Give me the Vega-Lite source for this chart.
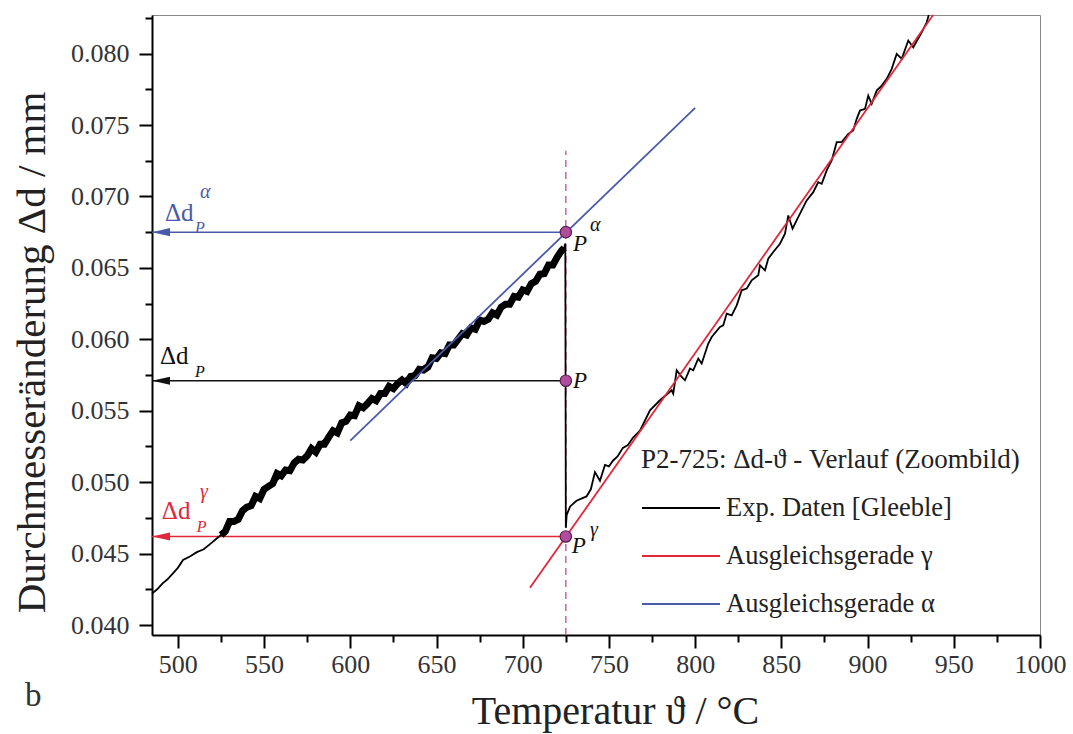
{
  "$schema": "https://vega.github.io/schema/vega-lite/v6.json",
  "width": 888,
  "height": 620,
  "autosize": "none",
  "padding": {"left": 152, "top": 15, "right": 33, "bottom": 99},
  "background": "white",
  "title": {"text": "b", "orient": "bottom", "anchor": "start", "frame": "group", "font": "Liberation Serif", "fontSize": 33, "fontWeight": "normal", "color": "#333", "dx": -127, "dy": -55},
  "config": {
    "view": {"stroke": "#888", "strokeWidth": 1},
    "axis": {"domainColor": "black", "domainWidth": 2, "tickColor": "black", "tickWidth": 2, "grid": false, "labelFont": "Liberation Serif", "labelFontSize": 26, "labelColor": "#333", "titleFont": "Liberation Serif", "titleFontWeight": "normal", "titleColor": "#222", "labelOverlap": false, "labelFlush": false},
    "legend": {"titleFont": "Liberation Serif", "titleFontSize": 27, "titleFontWeight": "normal", "titleColor": "#222", "labelFont": "Liberation Serif", "labelFontSize": 26.5, "labelColor": "#222", "labelLimit": 400, "titleLimit": 500}
  },
  "datasets": {
    "hlines": [
      {"x": 485, "x2": 725, "y": 0.0675, "c": "#4a5aaa"},
      {"x": 485, "x2": 725, "y": 0.0571, "c": "#111111"},
      {"x": 485, "x2": 725, "y": 0.0462, "c": "#e0283a"}
    ],
    "arrows": [
      {"x": 485, "y": 0.0675, "c": "#4a5aaa"},
      {"x": 485, "y": 0.0571, "c": "#111111"},
      {"x": 485, "y": 0.0462, "c": "#e0283a"}
    ],
    "vline": [{"x": 725, "y": 0.0393, "y2": 0.0732}],
    "pts": [
      {"x": 725, "y": 0.0675},
      {"x": 725, "y": 0.0571},
      {"x": 725, "y": 0.0462}
    ],
    "band": [
      {"x": 525, "y": 0.0463}, {"x": 527.5, "y": 0.04655}, {"x": 530, "y": 0.04725}, {"x": 532.5, "y": 0.04725},
      {"x": 535, "y": 0.0474}, {"x": 537.5, "y": 0.048}, {"x": 540, "y": 0.04825}, {"x": 542.5, "y": 0.04835},
      {"x": 545, "y": 0.049}, {"x": 547.5, "y": 0.04885}, {"x": 550, "y": 0.0495}, {"x": 552.5, "y": 0.0497},
      {"x": 555, "y": 0.0499}, {"x": 557.5, "y": 0.0506}, {"x": 560, "y": 0.05045}, {"x": 562.5, "y": 0.05085},
      {"x": 565, "y": 0.0508}, {"x": 567.5, "y": 0.05135}, {"x": 570, "y": 0.0516}, {"x": 572.5, "y": 0.05155},
      {"x": 575, "y": 0.05185}, {"x": 577.5, "y": 0.05235}, {"x": 580, "y": 0.0521}, {"x": 582.5, "y": 0.05265},
      {"x": 585, "y": 0.05265}, {"x": 587.5, "y": 0.05315}, {"x": 590, "y": 0.0536}, {"x": 592.5, "y": 0.05345},
      {"x": 595, "y": 0.05415}, {"x": 597.5, "y": 0.05425}, {"x": 600, "y": 0.0547}, {"x": 602.5, "y": 0.05465},
      {"x": 605, "y": 0.05535}, {"x": 607.5, "y": 0.0552}, {"x": 610, "y": 0.0555}, {"x": 612.5, "y": 0.05585},
      {"x": 615, "y": 0.0557}, {"x": 617.5, "y": 0.0562}, {"x": 620, "y": 0.0562}, {"x": 622.5, "y": 0.0567},
      {"x": 625, "y": 0.05655}, {"x": 627.5, "y": 0.0569}, {"x": 630, "y": 0.05715}, {"x": 632.5, "y": 0.0569},
      {"x": 635, "y": 0.0574}, {"x": 637.5, "y": 0.05745}, {"x": 640, "y": 0.0579}, {"x": 642.5, "y": 0.05785},
      {"x": 645, "y": 0.05805}, {"x": 647.5, "y": 0.0587}, {"x": 650, "y": 0.05865}, {"x": 652.5, "y": 0.05905},
      {"x": 655, "y": 0.059}, {"x": 657.5, "y": 0.0596}, {"x": 660, "y": 0.0596}, {"x": 662.5, "y": 0.06},
      {"x": 665, "y": 0.0604}, {"x": 667.5, "y": 0.0603}, {"x": 670, "y": 0.0608}, {"x": 672.5, "y": 0.0607},
      {"x": 675, "y": 0.06135}, {"x": 677.5, "y": 0.06125}, {"x": 680, "y": 0.0614}, {"x": 682.5, "y": 0.06185},
      {"x": 685, "y": 0.0617}, {"x": 687.5, "y": 0.06225}, {"x": 690, "y": 0.06245}, {"x": 692.5, "y": 0.06245},
      {"x": 695, "y": 0.063}, {"x": 697.5, "y": 0.06295}, {"x": 700, "y": 0.06345}, {"x": 702.5, "y": 0.06335},
      {"x": 705, "y": 0.0639}, {"x": 707.5, "y": 0.06405}, {"x": 710, "y": 0.06455}, {"x": 712.5, "y": 0.0646},
      {"x": 715, "y": 0.0652}, {"x": 717.5, "y": 0.0652}, {"x": 720, "y": 0.06575}, {"x": 722.5, "y": 0.0662},
      {"x": 724, "y": 0.0664}
    ],
    "lines": [
      {"s": "Exp. Daten [Gleeble]", "x": 485, "y": 0.0422},
      {"s": "Exp. Daten [Gleeble]", "x": 488, "y": 0.0425},
      {"s": "Exp. Daten [Gleeble]", "x": 491, "y": 0.0429},
      {"s": "Exp. Daten [Gleeble]", "x": 494, "y": 0.0432},
      {"s": "Exp. Daten [Gleeble]", "x": 497, "y": 0.0436},
      {"s": "Exp. Daten [Gleeble]", "x": 500, "y": 0.044},
      {"s": "Exp. Daten [Gleeble]", "x": 503, "y": 0.04455},
      {"s": "Exp. Daten [Gleeble]", "x": 507, "y": 0.0448},
      {"s": "Exp. Daten [Gleeble]", "x": 511, "y": 0.0451},
      {"s": "Exp. Daten [Gleeble]", "x": 515, "y": 0.0453},
      {"s": "Exp. Daten [Gleeble]", "x": 519, "y": 0.0457},
      {"s": "Exp. Daten [Gleeble]", "x": 522, "y": 0.046},
      {"s": "Exp. Daten [Gleeble]", "x": 525, "y": 0.0463},
      {"s": "Exp. Daten [Gleeble]", "x": 550, "y": 0.0494},
      {"s": "Exp. Daten [Gleeble]", "x": 575, "y": 0.0519},
      {"s": "Exp. Daten [Gleeble]", "x": 600, "y": 0.0546},
      {"s": "Exp. Daten [Gleeble]", "x": 625, "y": 0.0567},
      {"s": "Exp. Daten [Gleeble]", "x": 650, "y": 0.0587},
      {"s": "Exp. Daten [Gleeble]", "x": 675, "y": 0.0611},
      {"s": "Exp. Daten [Gleeble]", "x": 700, "y": 0.0633},
      {"s": "Exp. Daten [Gleeble]", "x": 715, "y": 0.065},
      {"s": "Exp. Daten [Gleeble]", "x": 724, "y": 0.0664},
      {"s": "Exp. Daten [Gleeble]", "x": 724.7, "y": 0.0667},
      {"s": "Exp. Daten [Gleeble]", "x": 725, "y": 0.0468},
      {"s": "Exp. Daten [Gleeble]", "x": 725.5, "y": 0.0477},
      {"s": "Exp. Daten [Gleeble]", "x": 727.5, "y": 0.0483},
      {"s": "Exp. Daten [Gleeble]", "x": 731.2, "y": 0.0487},
      {"s": "Exp. Daten [Gleeble]", "x": 737, "y": 0.049},
      {"s": "Exp. Daten [Gleeble]", "x": 739.5, "y": 0.0495},
      {"s": "Exp. Daten [Gleeble]", "x": 741.9, "y": 0.0507},
      {"s": "Exp. Daten [Gleeble]", "x": 744.8, "y": 0.0501},
      {"s": "Exp. Daten [Gleeble]", "x": 747.7, "y": 0.0512},
      {"s": "Exp. Daten [Gleeble]", "x": 750, "y": 0.0511},
      {"s": "Exp. Daten [Gleeble]", "x": 752.3, "y": 0.0515},
      {"s": "Exp. Daten [Gleeble]", "x": 755, "y": 0.0518},
      {"s": "Exp. Daten [Gleeble]", "x": 758.1, "y": 0.0524},
      {"s": "Exp. Daten [Gleeble]", "x": 761, "y": 0.0526},
      {"s": "Exp. Daten [Gleeble]", "x": 763.9, "y": 0.0531},
      {"s": "Exp. Daten [Gleeble]", "x": 768, "y": 0.0536},
      {"s": "Exp. Daten [Gleeble]", "x": 773.8, "y": 0.05503},
      {"s": "Exp. Daten [Gleeble]", "x": 779.6, "y": 0.05573},
      {"s": "Exp. Daten [Gleeble]", "x": 786.4, "y": 0.05643},
      {"s": "Exp. Daten [Gleeble]", "x": 787.3, "y": 0.0562},
      {"s": "Exp. Daten [Gleeble]", "x": 789.3, "y": 0.05783},
      {"s": "Exp. Daten [Gleeble]", "x": 792.2, "y": 0.05736},
      {"s": "Exp. Daten [Gleeble]", "x": 794.1, "y": 0.05713},
      {"s": "Exp. Daten [Gleeble]", "x": 797.0, "y": 0.05795},
      {"s": "Exp. Daten [Gleeble]", "x": 798.9, "y": 0.05783},
      {"s": "Exp. Daten [Gleeble]", "x": 801.8, "y": 0.05865},
      {"s": "Exp. Daten [Gleeble]", "x": 803.8, "y": 0.0583},
      {"s": "Exp. Daten [Gleeble]", "x": 807.6, "y": 0.0597},
      {"s": "Exp. Daten [Gleeble]", "x": 809.6, "y": 0.06016},
      {"s": "Exp. Daten [Gleeble]", "x": 814.4, "y": 0.06086},
      {"s": "Exp. Daten [Gleeble]", "x": 816.3, "y": 0.06098},
      {"s": "Exp. Daten [Gleeble]", "x": 818.3, "y": 0.0618},
      {"s": "Exp. Daten [Gleeble]", "x": 821.2, "y": 0.06168},
      {"s": "Exp. Daten [Gleeble]", "x": 824.1, "y": 0.06238},
      {"s": "Exp. Daten [Gleeble]", "x": 827.0, "y": 0.06343},
      {"s": "Exp. Daten [Gleeble]", "x": 829.9, "y": 0.06355},
      {"s": "Exp. Daten [Gleeble]", "x": 832.8, "y": 0.06413},
      {"s": "Exp. Daten [Gleeble]", "x": 836.6, "y": 0.06448},
      {"s": "Exp. Daten [Gleeble]", "x": 837.6, "y": 0.06517},
      {"s": "Exp. Daten [Gleeble]", "x": 840.5, "y": 0.06483},
      {"s": "Exp. Daten [Gleeble]", "x": 842.4, "y": 0.06564},
      {"s": "Exp. Daten [Gleeble]", "x": 845.3, "y": 0.06611},
      {"s": "Exp. Daten [Gleeble]", "x": 849.2, "y": 0.06669},
      {"s": "Exp. Daten [Gleeble]", "x": 852.1, "y": 0.06739},
      {"s": "Exp. Daten [Gleeble]", "x": 854.0, "y": 0.06867},
      {"s": "Exp. Daten [Gleeble]", "x": 856.5, "y": 0.06774},
      {"s": "Exp. Daten [Gleeble]", "x": 859.8, "y": 0.06855},
      {"s": "Exp. Daten [Gleeble]", "x": 864.7, "y": 0.06972},
      {"s": "Exp. Daten [Gleeble]", "x": 868.5, "y": 0.0703},
      {"s": "Exp. Daten [Gleeble]", "x": 871.4, "y": 0.071},
      {"s": "Exp. Daten [Gleeble]", "x": 873.4, "y": 0.07089},
      {"s": "Exp. Daten [Gleeble]", "x": 876.3, "y": 0.07182},
      {"s": "Exp. Daten [Gleeble]", "x": 879.2, "y": 0.07252},
      {"s": "Exp. Daten [Gleeble]", "x": 882.1, "y": 0.0738},
      {"s": "Exp. Daten [Gleeble]", "x": 885.0, "y": 0.0738},
      {"s": "Exp. Daten [Gleeble]", "x": 888.8, "y": 0.07438},
      {"s": "Exp. Daten [Gleeble]", "x": 891.7, "y": 0.07462},
      {"s": "Exp. Daten [Gleeble]", "x": 893.7, "y": 0.07543},
      {"s": "Exp. Daten [Gleeble]", "x": 895.6, "y": 0.07601},
      {"s": "Exp. Daten [Gleeble]", "x": 898.5, "y": 0.07613},
      {"s": "Exp. Daten [Gleeble]", "x": 900.4, "y": 0.07706},
      {"s": "Exp. Daten [Gleeble]", "x": 902.4, "y": 0.07648},
      {"s": "Exp. Daten [Gleeble]", "x": 905.3, "y": 0.07741},
      {"s": "Exp. Daten [Gleeble]", "x": 908.2, "y": 0.07776},
      {"s": "Exp. Daten [Gleeble]", "x": 911.1, "y": 0.07823},
      {"s": "Exp. Daten [Gleeble]", "x": 914.0, "y": 0.07893},
      {"s": "Exp. Daten [Gleeble]", "x": 916.9, "y": 0.07998},
      {"s": "Exp. Daten [Gleeble]", "x": 919.8, "y": 0.07963},
      {"s": "Exp. Daten [Gleeble]", "x": 923.6, "y": 0.08091},
      {"s": "Exp. Daten [Gleeble]", "x": 926.5, "y": 0.08044},
      {"s": "Exp. Daten [Gleeble]", "x": 931.4, "y": 0.08149},
      {"s": "Exp. Daten [Gleeble]", "x": 934.3, "y": 0.08219},
      {"s": "Exp. Daten [Gleeble]", "x": 935.5, "y": 0.0827},
      {"s": "Ausgleichsgerade γ", "x": 704.2, "y": 0.0426},
      {"s": "Ausgleichsgerade γ", "x": 938, "y": 0.0827},
      {"s": "Ausgleichsgerade α", "x": 600, "y": 0.0529},
      {"s": "Ausgleichsgerade α", "x": 800, "y": 0.0762}
    ],
    "bigtext": [
      {"x": 492.5, "y": 0.06881, "t": "Δd", "c": "#4a5aaa"},
      {"x": 489.6, "y": 0.05881, "t": "Δd", "c": "#111111"},
      {"x": 490.7, "y": 0.04797, "t": "Δd", "c": "#e0283a"}
    ],
    "subtext": [
      {"x": 509.9, "y": 0.06776, "t": "P", "c": "#4a5aaa"},
      {"x": 509.9, "y": 0.05769, "t": "P", "c": "#111111"},
      {"x": 511, "y": 0.04685, "t": "P", "c": "#e0283a"}
    ],
    "suptext": [
      {"x": 512.8, "y": 0.07028, "t": "α", "c": "#4a5aaa"},
      {"x": 512.8, "y": 0.0493, "t": "γ", "c": "#e0283a"},
      {"x": 739, "y": 0.06797, "t": "α", "c": "#111111"},
      {"x": 739, "y": 0.04664, "t": "γ", "c": "#111111"}
    ],
    "ptext": [
      {"x": 729.1, "y": 0.06664, "t": "P"},
      {"x": 729.1, "y": 0.05706, "t": "P"},
      {"x": 728.5, "y": 0.04552, "t": "P"}
    ]
  },
  "encoding": {
    "x": {"field": "x", "type": "quantitative", "scale": {"domain": [485, 1000], "nice": false, "zero": false},
      "axis": {"title": "Temperatur ϑ / °C", "titleFontSize": 40, "titleX": 463, "titleY": 88, "titleBaseline": "alphabetic",
        "values": [500, 525, 550, 575, 600, 625, 650, 675, 700, 725, 750, 775, 800, 825, 850, 875, 900, 925, 950, 975, 1000],
        "labelExpr": "datum.value % 50 == 0 ? format(datum.value, 'd') : ''",
        "tickSize": {"condition": {"test": "datum.value % 50 == 0", "value": 13}, "value": 7},
        "labelPadding": 3}},
    "y": {"field": "y", "type": "quantitative", "scale": {"domain": [0.0393, 0.0827], "nice": false, "zero": false},
      "axis": {"title": "Durchmesseränderung Δd / mm", "titleFontSize": 41, "titleX": -108, "titleY": 337, "titleBaseline": "alphabetic", "titleAlign": "center", "titleAngle": -90,
        "values": [0.04, 0.0425, 0.045, 0.0475, 0.05, 0.0525, 0.055, 0.0575, 0.06, 0.0625, 0.065, 0.0675, 0.07, 0.0725, 0.075, 0.0775, 0.08, 0.0825],
        "labelExpr": "round(datum.value*2000) % 10 == 0 ? format(datum.value, '.3f') : ''",
        "tickSize": {"condition": {"test": "round(datum.value*2000) % 10 == 0", "value": 13}, "value": 7},
        "labelPadding": 10}}
  },
  "layer": [
    {
      "data": {"name": "hlines"},
      "mark": {"type": "rule", "strokeWidth": 1.5},
      "encoding": {"x2": {"field": "x2"}, "stroke": {"field": "c", "type": "nominal", "scale": null, "legend": null}}
    },
    {
      "data": {"name": "vline"},
      "mark": {"type": "rule", "strokeWidth": 1.5, "color": "#d35f9e", "strokeDash": [7, 5]},
      "encoding": {"y2": {"field": "y2"}}
    },
    {
      "data": {"name": "band"},
      "mark": {"type": "line", "strokeWidth": 7, "color": "black", "strokeJoin": "miter"},
      "encoding": {}
    },
    {
      "data": {"name": "lines"},
      "mark": {"type": "line", "strokeWidth": 1.8},
      "encoding": {
        "color": {"field": "s", "type": "nominal",
          "scale": {"domain": ["Exp. Daten [Gleeble]", "Ausgleichsgerade γ", "Ausgleichsgerade α"], "range": ["#000000", "#e0283a", "#4a5aaa"]},
          "legend": {"title": "P2-725: Δd-ϑ - Verlauf (Zoombild)", "orient": "none", "legendX": 489, "legendY": 432, "symbolType": "stroke", "symbolSize": 6084, "symbolStrokeWidth": 2, "clipHeight": 48, "rowPadding": 0, "titlePadding": 10, "labelOffset": 5}}
      }
    },
    {
      "data": {"name": "arrows"},
      "mark": {"type": "point", "shape": "M0,0L2,-0.45L2,0.45Z", "filled": true, "size": 324, "opacity": 1, "strokeWidth": 0},
      "encoding": {"fill": {"field": "c", "type": "nominal", "scale": null, "legend": null}}
    },
    {
      "data": {"name": "pts"},
      "mark": {"type": "point", "shape": "circle", "filled": true, "size": 130, "fill": "#b04c9c", "stroke": "#5a1f50", "strokeWidth": 1.2, "opacity": 1}
    },
    {
      "data": {"name": "bigtext"},
      "mark": {"type": "text", "font": "Liberation Serif", "fontSize": 25, "align": "left", "baseline": "middle"},
      "encoding": {"text": {"field": "t"}, "fill": {"field": "c", "type": "nominal", "scale": null, "legend": null}}
    },
    {
      "data": {"name": "subtext"},
      "mark": {"type": "text", "font": "Liberation Serif", "fontSize": 16, "fontStyle": "italic", "align": "left", "baseline": "middle"},
      "encoding": {"text": {"field": "t"}, "fill": {"field": "c", "type": "nominal", "scale": null, "legend": null}}
    },
    {
      "data": {"name": "suptext"},
      "mark": {"type": "text", "font": "Liberation Serif", "fontSize": 20, "fontStyle": "italic", "align": "left", "baseline": "middle"},
      "encoding": {"text": {"field": "t"}, "fill": {"field": "c", "type": "nominal", "scale": null, "legend": null}}
    },
    {
      "data": {"name": "ptext"},
      "mark": {"type": "text", "font": "Liberation Serif", "fontSize": 23, "fontStyle": "italic", "align": "left", "baseline": "middle", "color": "#111"},
      "encoding": {"text": {"field": "t"}}
    }
  ]
}
